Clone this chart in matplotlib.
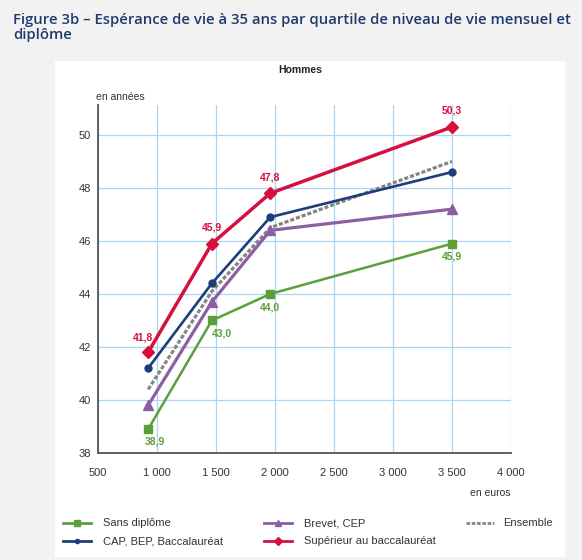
import matplotlib
matplotlib.use("Agg")
import matplotlib.pyplot as plt
from matplotlib.patches import Rectangle
from matplotlib.lines import Line2D
from matplotlib.ticker import FuncFormatter

# donnees
quartiles = [925, 1465, 1960, 3500]
sans_diplome = [38.9, 43.0, 44.0, 45.9]
brevet_cep = [39.8, 43.7, 46.4, 47.2]
cap_bep_bac = [41.2, 44.4, 46.9, 48.6]
superieur = [41.8, 45.9, 47.8, 50.3]
ensemble = [40.4, 44.1, 46.5, 49.0]

x_ticks = [500, 1000, 1500, 2000, 2500, 3000, 3500, 4000]
y_ticks = [38, 40, 42, 44, 46, 48, 50]

W, H = 582, 560
NARROW = ['Liberation Sans Narrow', 'Liberation Sans', 'DejaVu Sans']

fig = plt.figure(figsize=(W / 100, H / 100), dpi=100, facecolor='#f2f2f2')
fig.patches.append(Rectangle((55 / W, 1 - 557 / H), 510 / W, 496 / H,
                             transform=fig.transFigure, facecolor='white',
                             edgecolor='none', zorder=-5))

fig.text(13 / W, 1 - 20 / H, "Figure 3b – Espérance de vie à 35 ans par quartile de niveau de vie mensuel et",
         fontsize=10.7, color='#1f3b6e', family='Open Sans', weight='semibold', va='center')
fig.text(13 / W, 1 - 35 / H, "diplôme",
         fontsize=10.7, color='#1f3b6e', family='Open Sans', weight='semibold', va='center')

ax = fig.add_axes([98 / W, 1 - 453 / H, 413 / W, 348 / H])
ax.set_facecolor('white')
ax.set_xlim(500, 4000)
ax.set_ylim(38, 51.13)
ax.set_xticks(x_ticks)
ax.set_yticks(y_ticks)
ax.xaxis.set_major_formatter(FuncFormatter(lambda v, p: f"{int(v):,}".replace(',', ' ')))
ax.grid(True, color='#a9d6f2', lw=0.9)
ax.set_axisbelow(True)
for s in ['top', 'right']:
    ax.spines[s].set_visible(False)
for s in ['left', 'bottom']:
    ax.spines[s].set_color('#555555')
    ax.spines[s].set_linewidth(1.3)
ax.tick_params(length=0, labelsize=8, labelcolor='#333333')
ax.tick_params(axis='x', pad=11)
ax.tick_params(axis='y', pad=5)
for lab in ax.get_xticklabels() + ax.get_yticklabels():
    lab.set_family(NARROW)

green, navy, purple, red, grey = '#5c9e3a', '#1b3f7a', '#8c5ea3', '#d5103f', '#858585'

ax.plot(quartiles, ensemble, color=grey, lw=2.3, ls=(0, (1.3, 0.6)), zorder=3)
ax.plot(quartiles, sans_diplome, color=green, lw=1.8, marker='s', ms=6, zorder=4)
ax.plot(quartiles, brevet_cep, color=purple, lw=2.3, marker='^', ms=7.5, zorder=4)
ax.plot(quartiles, cap_bep_bac, color=navy, lw=1.9, marker='o', ms=5, zorder=5)
ax.plot(quartiles, superieur, color=red, lw=2.5, marker='D', ms=6.5, zorder=6)

fmt = lambda v: f"{v:.1f}".replace('.', ',')
red_off = [(-4, 7), (0, 8), (0, 8), (0, 8)]
for x, y, o in zip(quartiles, superieur, red_off):
    ax.annotate(fmt(y), (x, y), xytext=o, textcoords='offset points', ha='center', va='bottom',
                fontsize=7.5, color=red, weight='bold', family=NARROW)
green_off = [(5, -5), (7, -6), (0, -6), (0, -6)]
for x, y, o in zip(quartiles, sans_diplome, green_off):
    ax.annotate(fmt(y), (x, y), xytext=o, textcoords='offset points', ha='center', va='top',
                fontsize=7.5, color=green, weight='bold', family=NARROW)

fig.text(300 / W, 1 - 70 / H, "Hommes", fontsize=7.5, weight='bold', color='#222222',
         ha='center', va='center', family=NARROW)
fig.text(96 / W, 1 - 97 / H, "en années", fontsize=7.5, color='#333333', ha='left', va='center', family=NARROW)
fig.text(511 / W, 1 - 493 / H, "en euros", fontsize=7.5, color='#333333', ha='right', va='center', family=NARROW)

# legende dessinee a la main : (couleur, marqueur, style, texte, x, y, x du texte) en pixels
legend_items = [
    (green, 's', '-', 'Sans diplôme', 63, 523, 103),
    (navy, 'o', '-', 'CAP, BEP, Baccalauréat', 63, 541, 103),
    (purple, '^', '-', 'Brevet, CEP', 264, 523, 304),
    (red, 'D', '-', 'Supérieur au baccalauréat', 264, 541, 304),
    (grey, '', (0, (1.3, 0.6)), 'Ensemble', 466, 523, 503),
]
for c, m, st, txt, x0, y0, tx in legend_items:
    yf = 1 - y0 / H
    fig.add_artist(Line2D([x0 / W, (x0 + 28) / W], [yf, yf], transform=fig.transFigure,
                          color=c, lw=2.0, ls=st))
    if m:
        fig.add_artist(Line2D([(x0 + 14) / W], [yf], transform=fig.transFigure, color=c,
                              marker=m, ms=4.5 if m != 'o' else 3, ls='none'))
    fig.text(tx / W, yf, txt, fontsize=8, color='#333333', ha='left', va='center', family=NARROW)

fig.savefig('out.png', dpi=100, facecolor=fig.get_facecolor())
